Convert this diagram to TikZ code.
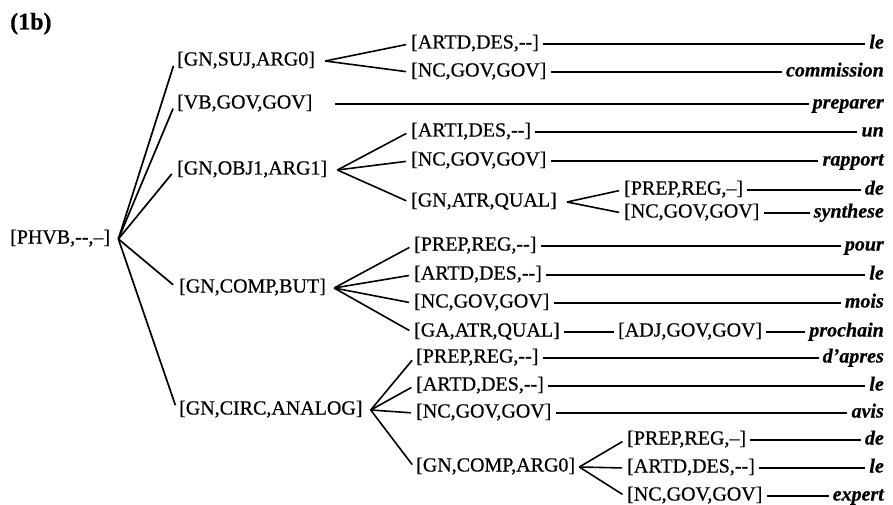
\documentclass[tikz,border=0pt]{standalone}
\usepackage{fontspec}
\setmainfont{Liberation Serif}[FakeBold=0.6]
\usetikzlibrary{positioning}

\begin{document}
\begin{tikzpicture}[
    x=1pt, y=-1pt,
    font=\fontsize{20}{24}\selectfont,
    every node/.style={inner sep=2pt, text height=13pt, text depth=4pt},
    cat/.style={anchor=west},
    word/.style={anchor=east, font=\fontsize{20}{24}\selectfont\bfseries\itshape},
    fan/.style={line width=1.7pt, shorten >=5pt},
    fork/.style={line width=1.6pt, shorten >=3pt},
    leaf/.style={line width=1.5pt, shorten <=2pt, shorten >=2pt}
]
\useasboundingbox (0,0) rectangle (893,505);

% Label
\node[anchor=west, font=\fontsize{24}{28}\selectfont\bfseries] (tag) at (8,25) {(1b)};

% Root
\node[cat] (phvb) at (8,239) {[PHVB,-{}-,--]};

% First level
\node[cat] (suj) at (175,61) {[GN,SUJ,ARG0]};
\node[cat] (vb) at (175,104) {[VB,GOV,GOV]};
\node[cat] (obj) at (175,170) {[GN,OBJ1,ARG1]};
\node[cat] (comp) at (177,288) {[GN,COMP,BUT]};
\node[cat] (circ) at (177,410) {[GN,CIRC,ANALOG]};

% Second level, upper part
\node[cat] (suj1) at (409,44) {[ARTD,DES,-{}-]};
\node[cat] (suj2) at (409,72) {[NC,GOV,GOV]};
\node[cat] (obj1) at (409,132) {[ARTI,DES,-{}-]};
\node[cat] (obj2) at (409,161) {[NC,GOV,GOV]};
\node[cat] (obj3) at (409,202) {[GN,ATR,QUAL]};
\node[cat] (qual1) at (622,190) {[PREP,REG,--]};
\node[cat] (qual2) at (622,213) {[NC,GOV,GOV]};

% Second level, lower part
\node[cat] (comp1) at (412,246) {[PREP,REG,-{}-]};
\node[cat] (comp2) at (412,275) {[ARTD,DES,-{}-]};
\node[cat] (comp3) at (412,303) {[NC,GOV,GOV]};
\node[cat] (comp4) at (412,332) {[GA,ATR,QUAL]};
\node[cat, right=54pt of comp4] (adj) {[ADJ,GOV,GOV]};
\node[cat] (circ1) at (414,358) {[PREP,REG,-{}-]};
\node[cat] (circ2) at (414,386) {[ARTD,DES,-{}-]};
\node[cat] (circ3) at (414,413) {[NC,GOV,GOV]};
\node[cat] (circ4) at (414,467) {[GN,COMP,ARG0]};
\node[cat] (arg1) at (625,440) {[PREP,REG,--]};
\node[cat] (arg2) at (625,468) {[ARTD,DES,-{}-]};
\node[cat] (arg3) at (625,496) {[NC,GOV,GOV]};

% Words
\node[word] (w1) at (886,44) {le};
\node[word] (w2) at (886,72) {commission};
\node[word] (w3) at (886,104) {preparer};
\node[word] (w4) at (886,132) {un};
\node[word] (w5) at (886,161) {rapport};
\node[word] (w6) at (886,190) {de};
\node[word] (w7) at (886,213) {synthese};
\node[word] (w8) at (886,246) {pour};
\node[word] (w9) at (886,275) {le};
\node[word] (w10) at (886,303) {mois};
\node[word] (w11) at (886,332) {prochain};
\node[word] (w12) at (886,358) {d'apres};
\node[word] (w13) at (886,386) {le};
\node[word] (w14) at (886,413) {avis};
\node[word] (w15) at (886,440) {de};
\node[word] (w16) at (886,468) {le};
\node[word] (w17) at (886,496) {expert};

% Branches
\foreach \n in {suj,vb,obj,comp,circ}
    \draw[fan] ([xshift=6pt]phvb.east) -- (\n.west);
\foreach \n in {suj1,suj2}
    \draw[fork] ([xshift=8pt]suj.east) -- (\n.west);
\foreach \n in {obj1,obj2,obj3}
    \draw[fork] ([xshift=8pt]obj.east) -- (\n.west);
\foreach \n in {qual1,qual2}
    \draw[fork] ([xshift=8pt]obj3.east) -- (\n.west);
\foreach \n in {comp1,comp2,comp3,comp4}
    \draw[fork] ([xshift=6pt]comp.east) -- (\n.west);
\foreach \n in {circ1,circ2,circ3,circ4}
    \draw[fork] ([xshift=6pt]circ.east) -- (\n.west);
\foreach \n in {arg1,arg2,arg3}
    \draw[fork] ([xshift=2pt]circ4.east) -- (\n.west);

% Leaves
\draw[leaf] ([xshift=18pt]vb.east) -- (w3.west);
\draw[leaf] (comp4.east) -- (adj.west);
\foreach \a/\b in {suj1/w1, suj2/w2, obj1/w4, obj2/w5, qual1/w6, qual2/w7,
                   comp1/w8, comp2/w9, comp3/w10, adj/w11, circ1/w12, circ2/w13,
                   circ3/w14, arg1/w15, arg2/w16, arg3/w17}
    \draw[leaf] (\a.east) -- (\b.west);

\end{tikzpicture}
\end{document}
